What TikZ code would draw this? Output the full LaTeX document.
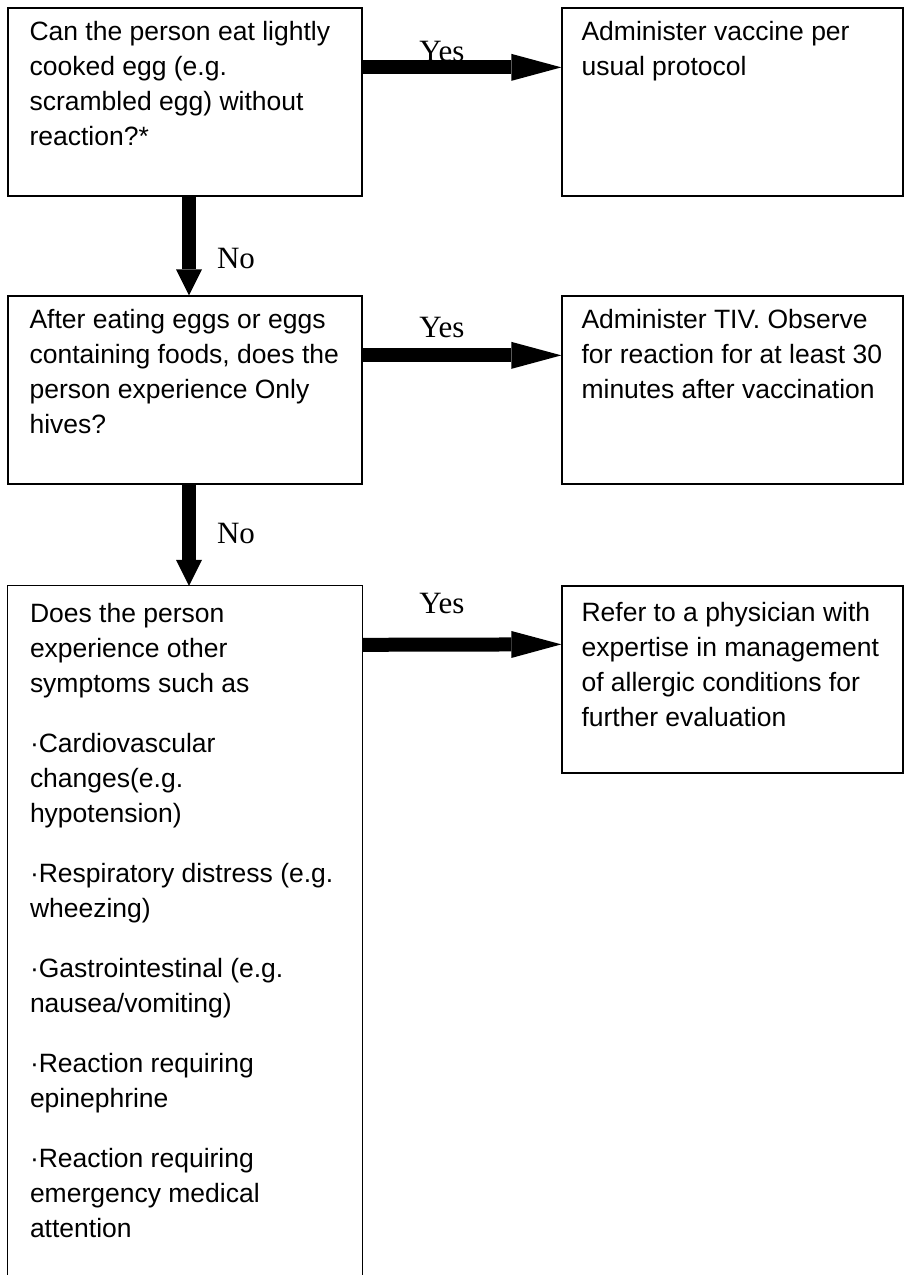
\documentclass[tikz,border=0pt]{standalone}
\usepackage{fontspec}
\setmainfont{Liberation Sans}
\newfontfamily\seriflbl{Liberation Serif}
\usetikzlibrary{arrows.meta}
\begin{document}
\begin{tikzpicture}[x=1pt,y=-1pt,
  box/.style={draw, line width=1.3pt, inner sep=0pt},
  openbox/.style={inner sep=0pt},
  txt/.style={anchor=north west, inner sep=0pt, align=left, font=\fontsize{26.5}{35}\selectfont},
  harrow/.style={line width=14pt, -{Triangle[length=50pt,width=27pt,line width=0pt]}},
  varrow/.style={line width=14pt, -{Triangle[length=26pt,width=26pt,line width=0pt]}},
  lbl/.style={font=\seriflbl\fontsize{31}{31}\selectfont, inner sep=0pt, anchor=base}]
\useasboundingbox (0,0) rectangle (904,1275);
\fill[white] (0,0) rectangle (904,1275);
% boxes
\node[box, minimum width=354pt, minimum height=188pt] (b1) at (185,102) {};
\node[box, minimum width=341pt, minimum height=188pt] (b2) at (732.5,102) {};
\node[box, minimum width=354pt, minimum height=188pt] (b3) at (185,390) {};
\node[box, minimum width=341pt, minimum height=188pt] (b4) at (732.5,390) {};
\node[openbox, minimum width=354pt, minimum height=704pt] (b5) at (185,938) {};
\draw[line width=1.3pt] (b5.south west) -- (b5.north west) -- (b5.north east) -- (b5.south east);
\node[box, minimum width=341pt, minimum height=187pt] (b6) at (732.5,679.5) {};
% texts
\node[txt] (t1) at ([xshift=22pt,yshift=-9pt]b1.north west) {\rule{0pt}{24pt}Can the person eat lightly\\cooked egg (e.g.\\scrambled egg) without\\reaction?*};
\node[txt] (t2) at ([xshift=20pt,yshift=-9pt]b2.north west) {\rule{0pt}{24pt}Administer vaccine per\\usual protocol};
\node[txt] (t3) at ([xshift=22pt,yshift=-9pt]b3.north west) {\rule{0pt}{24pt}After eating eggs or eggs\\containing foods, does the\\person experience Only\\hives?};
\node[txt] (t4) at ([xshift=20pt,yshift=-9pt]b4.north west) {\rule{0pt}{24pt}Administer TIV. Observe\\for reaction for at least 30\\minutes after vaccination};
\node[txt] (t5) at ([xshift=22pt,yshift=-12pt]b5.north west) {\rule{0pt}{24pt}Does the person\\experience other\\symptoms such as\\[25pt]
·Cardiovascular\\changes(e.g.\\hypotension)\\[25pt]
·Respiratory distress (e.g.\\wheezing)\\[25pt]
·Gastrointestinal (e.g.\\nausea/vomiting)\\[25pt]
·Reaction requiring\\epinephrine\\[25pt]
·Reaction requiring\\emergency medical\\attention};
\node[txt] (t6) at ([xshift=20pt,yshift=-12pt]b6.north west) {\rule{0pt}{24pt}Refer to a physician with\\expertise in management\\of allergic conditions for\\further evaluation};
% connectors
\draw[harrow] ([yshift=-60pt]b1.north east) -- ([yshift=-60pt]b2.north west);
\draw[harrow] ([yshift=-60pt]b3.north east) -- ([yshift=-60pt]b4.north west);
\draw[harrow] ([yshift=-59pt]b5.north east) -- ([yshift=-59pt]b6.north west);
\draw[varrow] ([xshift=4pt]b1.south) -- ([xshift=4pt]b3.north);
\draw[varrow] ([xshift=4pt]b3.south) -- ([xshift=4pt]b5.north);
% labels
\node[lbl] (y1) at (442,61) {Yes};
\node[lbl] (y2) at (442,337) {Yes};
\node[lbl] (y3) at (442,613) {Yes};
\node[lbl] (n1) at (236,268) {No};
\node[lbl] (n2) at (236,543) {No};
\end{tikzpicture}
\end{document}
